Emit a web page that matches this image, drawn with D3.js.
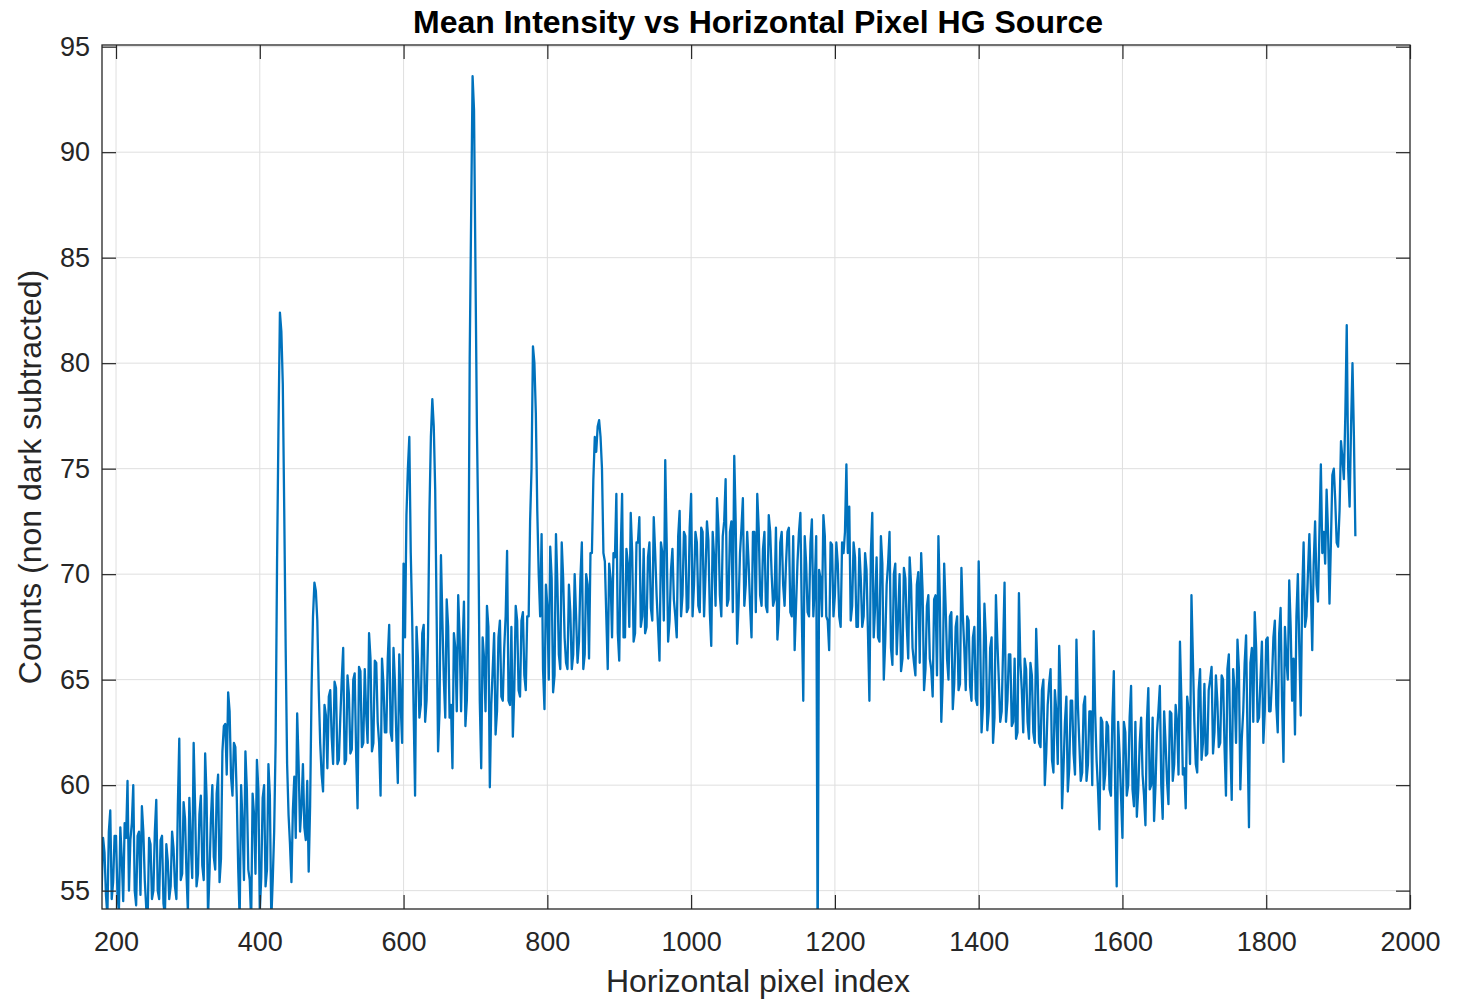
<!DOCTYPE html>
<html>
<head>
<meta charset="utf-8">
<script src="https://cdn.jsdelivr.net/npm/d3@7"></script>
<style>
  body { margin: 0; background: #fff; }
  text { font-family: "Liberation Sans", Arial, Helvetica, sans-serif; }
</style>
</head>
<body>
<svg id="chart" width="1473" height="1000"></svg>
<script>
// Samples are every 2 horizontal pixels; stored as two interleaved lists
const startPixel = 180;   // first pixel of evenCounts
const pixelStep = 4;      // spacing inside each list
const oddOffset = 2;      // oddCounts sit halfway between evenCounts samples

// Mean intensity (counts, no dark subtraction) at pixels 180, 184, 188, ...
const evenCounts = [
  // 180 - 276
  55.0, 56.8, 53.8, 58.8, 55.4, 57.6, 54.0, 56.5, 58.2, 60.2, 57.4, 60.0, 54.3, 57.8, 59.0, 55.5, 53.6, 57.2, 55.0, 59.3, 54.6, 57.6, 53.8, 56.4, 55.2,
  // 280 - 376
  57.0, 54.6, 62.2, 55.8, 58.4, 54.0, 57.2, 62.0, 55.2, 58.6, 56.2, 61.5, 53.8, 58.4, 56.6, 59.6, 55.4, 61.6, 62.9, 64.4, 60.4, 62.0, 59.4, 53.6, 58.2,
  // 380 - 476
  61.6, 56.0, 53.5, 58.6, 61.2, 54.0, 59.4, 55.2, 61.0, 53.6, 57.8, 70.5, 82.4, 79.0, 66.5, 58.6, 55.4, 60.4, 63.4, 57.8, 61.0, 57.4, 55.9, 64.5, 69.6,
  // 480 - 576
  67.8, 62.0, 59.7, 63.3, 64.2, 62.3, 64.9, 61.0, 63.2, 66.5, 61.2, 64.3, 61.7, 65.3, 58.9, 65.4, 62.0, 63.4, 67.2, 61.6, 65.9, 63.0, 59.5, 64.8, 62.5,
  // 580 - 676
  67.6, 62.1, 64.9, 60.1, 63.8, 70.5, 72.8, 76.5, 67.8, 59.5, 66.0, 63.8, 67.6, 64.0, 73.0, 78.3, 74.0, 61.6, 70.9, 65.0, 68.8, 63.2, 60.8, 66.5, 69.0,
  // 680 - 776
  63.5, 68.7, 64.0, 80.3, 93.6, 84.5, 72.0, 60.8, 66.0, 68.5, 59.9, 65.5, 62.4, 67.0, 64.2, 66.5, 71.1, 63.8, 62.3, 68.5, 64.5, 67.8, 65.2, 68.0, 72.5,
  // 780 - 876
  80.8, 77.6, 70.0, 71.9, 63.6, 68.5, 71.3, 64.4, 71.9, 66.2, 71.5, 67.0, 65.5, 68.2, 66.2, 68.0, 66.8, 71.5, 66.2, 69.5, 71.0, 74.5, 75.8, 77.3, 75.0,
  // 880 - 976
  70.6, 65.5, 69.8, 71.0, 73.8, 65.9, 73.8, 67.0, 70.5, 72.9, 66.8, 71.5, 72.7, 68.0, 67.2, 70.8, 68.4, 72.7, 69.0, 65.9, 71.0, 75.4, 66.8, 70.2, 68.8,
  // 980 - 1076
  67.0, 73.0, 69.0, 71.8, 68.4, 73.8, 69.5, 71.5, 68.2, 72.0, 70.0, 71.6, 66.6, 70.8, 73.6, 69.0, 71.8, 74.5, 68.8, 72.5, 75.6, 66.7, 71.0, 73.6, 69.5,
  // 1080 - 1176
  70.5, 67.0, 72.0, 73.8, 69.0, 71.2, 68.5, 72.8, 70.0, 68.8, 66.9, 71.5, 69.5, 70.5, 72.2, 68.0, 66.4, 70.6, 72.9, 64.0, 70.5, 68.0, 72.6, 69.5, 52.0,
  // 1180 - 1276
  69.8, 72.8, 68.0, 66.4, 71.4, 69.0, 70.5, 67.5, 71.0, 75.2, 73.2, 68.5, 70.8, 67.5, 69.8, 68.0, 70.2, 64.0, 72.9, 68.5, 67.0, 71.8, 65.0, 69.5, 72.0,
  // 1280 - 1376
  65.7, 70.5, 68.0, 65.4, 70.3, 67.5, 70.8, 66.5, 65.2, 70.1, 71.0, 64.5, 68.5, 66.0, 64.2, 69.0, 71.8, 63.0, 70.5, 66.0, 68.0, 63.6, 67.5, 64.5, 70.3,
  // 1380 - 1476
  66.5, 68.0, 64.7, 67.0, 64.1, 70.6, 62.5, 68.6, 62.6, 66.5, 62.0, 69.0, 65.0, 63.5, 69.6, 64.0, 66.2, 63.0, 62.2, 69.1, 64.5, 66.0, 63.0, 65.8, 62.5,
  // 1480 - 1576
  67.4, 62.0, 64.5, 60.0, 63.8, 65.5, 60.6, 63.5, 66.6, 58.9, 63.0, 59.7, 64.0, 61.5, 66.9, 62.0, 60.6, 64.2, 61.0, 63.5, 67.3, 61.2, 57.9, 63.0, 60.5,
  // 1580 - 1676
  62.8, 59.5, 65.4, 55.2, 61.5, 57.5, 62.5, 60.0, 64.7, 59.0, 58.5, 62.0, 60.5, 58.1, 64.6, 60.0, 58.3, 62.5, 64.7, 58.4, 62.0, 59.1, 63.4, 61.0, 63.0,
  // 1680 - 1776
  66.8, 60.5, 58.9, 63.5, 69.0, 63.0, 60.6, 65.5, 62.0, 61.4, 64.5, 65.6, 62.5, 64.0, 62.0, 65.0, 59.5, 66.2, 59.3, 64.5, 66.9, 59.8, 63.5, 67.1, 58.0,
  // 1780 - 1876
  66.5, 68.2, 63.0, 65.0, 62.0, 66.9, 63.5, 65.0, 67.8, 62.5, 68.4, 61.1, 66.0, 69.7, 64.0, 62.4, 70.0, 63.3, 71.5, 68.0, 71.9, 66.4, 72.5, 68.7, 75.2,
  // 1880 - 1924
  72.0, 74.0, 68.6, 74.7, 73.5, 71.3, 76.3, 74.5, 81.8, 73.2, 80.0, 71.8
];

// Mean intensity at pixels 182, 186, 190, ...
const oddCounts = [
  // 182 - 278
  57.5, 54.8, 57.8, 54.6, 57.6, 54.8, 58.0, 54.5, 57.5, 55.0, 58.2, 55.0, 57.6, 54.8, 57.8, 54.2, 57.5, 54.6, 57.8, 55.0, 57.4, 54.4, 57.2, 54.6, 57.8,
  // 282 - 378
  55.2, 59.0, 55.5, 59.2, 55.8, 59.4, 55.6, 59.0, 55.8, 59.5, 55.5, 59.4, 55.8, 60.0, 56.0, 60.5, 56.5, 62.8, 60.5, 63.5, 59.5, 61.8, 56.0, 60.0, 55.5,
  // 382 - 478
  59.8, 55.5, 59.6, 55.8, 59.8, 55.6, 60.0, 56.0, 59.5, 55.5, 62.0, 77.0, 81.5, 73.0, 61.0, 57.2, 58.8, 57.5, 61.0, 59.0, 58.0, 60.2, 59.0, 68.0, 69.2,
  // 482 - 578
  64.5, 60.5, 63.8, 60.8, 64.5, 61.0, 64.6, 61.2, 65.0, 61.0, 65.2, 61.5, 65.0, 61.5, 65.6, 61.8, 65.5, 62.0, 66.0, 62.0, 65.8, 62.0, 66.0, 62.5, 66.0,
  // 582 - 678
  62.5, 66.5, 62.2, 66.2, 62.0, 67.0, 75.0, 71.0, 63.5, 67.5, 63.2, 67.2, 63.0, 67.0, 76.5, 77.0, 68.0, 63.5, 67.8, 63.2, 67.5, 63.8, 67.2, 63.5, 67.0,
  // 682 - 778
  66.5, 62.8, 67.5, 87.0, 92.0, 77.0, 64.0, 67.0, 63.5, 67.5, 63.8, 67.2, 63.5, 67.8, 64.0, 68.0, 64.0, 67.5, 64.5, 67.8, 64.2, 68.2, 64.5, 68.0, 75.0,
  // 782 - 878
  80.0, 73.0, 68.0, 65.5, 69.5, 65.0, 69.8, 65.2, 69.5, 65.5, 69.8, 65.8, 69.5, 65.5, 70.0, 65.8, 69.8, 65.5, 70.0, 66.0, 71.0, 76.5, 77.0, 76.5, 71.0,
  // 882 - 978
  68.0, 70.5, 67.0, 70.8, 67.2, 71.0, 67.0, 71.2, 67.5, 71.0, 67.2, 71.5, 67.5, 71.2, 67.5, 71.5, 67.8, 71.0, 67.5, 71.5, 67.8, 71.5, 67.8, 71.2, 68.0,
  // 982 - 1078
  71.8, 68.0, 72.0, 68.2, 72.2, 68.0, 72.0, 68.5, 72.2, 68.0, 72.5, 68.2, 72.0, 68.5, 72.2, 68.0, 72.5, 68.5, 72.0, 68.2, 72.5, 68.5, 72.2, 68.5, 72.0,
  // 1082 - 1178
  68.5, 72.0, 68.2, 72.2, 68.5, 72.0, 68.2, 72.0, 68.5, 72.2, 68.0, 72.0, 68.5, 72.0, 68.2, 71.8, 68.5, 72.0, 68.0, 71.8, 68.2, 71.5, 68.0, 71.8, 70.2,
  // 1182 - 1278
  68.0, 71.8, 67.8, 71.5, 68.0, 71.5, 68.0, 71.5, 72.0, 71.0, 67.8, 71.5, 67.5, 71.2, 67.5, 71.0, 67.2, 71.0, 67.0, 70.8, 66.8, 70.5, 66.8, 70.5, 66.5,
  // 1282 - 1378
  70.0, 66.2, 70.0, 66.0, 69.8, 66.0, 69.5, 65.8, 69.5, 65.8, 69.2, 65.5, 69.0, 65.5, 68.8, 65.2, 68.8, 65.0, 68.5, 65.0, 68.2, 64.8, 68.0, 64.8, 68.0,
  // 1382 - 1478
  64.5, 67.8, 64.0, 67.5, 63.8, 67.2, 63.8, 67.0, 63.5, 67.0, 63.2, 66.8, 63.0, 66.5, 63.0, 66.2, 62.8, 66.0, 62.5, 65.8, 62.5, 65.5, 62.2, 65.2, 62.0,
  // 1482 - 1578
  65.2, 61.8, 65.0, 61.5, 64.8, 61.2, 64.5, 61.0, 64.5, 60.8, 64.2, 60.8, 64.0, 60.5, 63.8, 60.2, 63.8, 60.2, 63.5, 60.0, 63.5, 59.8, 63.2, 59.8, 63.0,
  // 1582 - 1678
  59.8, 63.2, 59.5, 63.0, 59.5, 63.0, 59.5, 63.2, 59.8, 63.0, 59.8, 63.2, 59.5, 63.0, 59.8, 63.2, 60.0, 63.5, 60.0, 63.5, 60.2, 63.5, 60.2, 63.8, 60.5,
  // 1682 - 1778
  64.0, 60.8, 64.2, 61.0, 66.0, 61.0, 64.5, 61.2, 64.8, 61.5, 65.0, 61.5, 65.2, 61.8, 65.2, 61.8, 65.5, 62.0, 65.5, 62.0, 65.5, 62.2, 65.8, 62.2, 65.8,
  // 1782 - 1878
  63.0, 66.5, 63.2, 66.8, 63.5, 67.0, 63.5, 67.0, 63.8, 67.2, 64.0, 67.5, 65.0, 67.5, 66.0, 68.0, 66.5, 69.0, 67.5, 70.0, 69.5, 70.5, 69.5, 72.0, 71.0,
  // 1882 - 1922
  70.5, 72.0, 71.5, 75.0, 71.5, 73.0, 75.5, 77.5, 75.0, 77.0, 76.5
];

const xTicks = [200, 400, 600, 800, 1000, 1200, 1400, 1600, 1800, 2000];
const yTicks = [55, 60, 65, 70, 75, 80, 85, 90, 95];
const xDomain = [180.5, 2000];
const yDomain = [54.13, 95.08];

const titleText = "Mean Intensity vs Horizontal Pixel HG Source";
const xLabelText = "Horizontal pixel index";
const yLabelText = "Counts (non dark subtracted)";

const lineColor = "#0072BD";
const axisColor = "#262626";
const gridColor = "#dfdfdf";

const plot = { left: 102, right: 1410, top: 45, bottom: 909 };
const tickLen = 14;

const svg = d3.select("#chart");

const x = d3.scaleLinear().domain(xDomain).range([plot.left, plot.right]);
const y = d3.scaleLinear().domain(yDomain).range([plot.bottom, plot.top]);

// Interleave the two lists into one series ordered by pixel index
const series = d3.sort(
  evenCounts.map((v, i) => ({ px: startPixel + i * pixelStep, v }))
    .concat(oddCounts.map((v, i) => ({ px: startPixel + oddOffset + i * pixelStep, v }))),
  d => d.px
);

// Grid lines
const grid = svg.append("g").attr("class", "grid");
grid.selectAll("line.gx").data(xTicks.filter(t => t < xDomain[1])).join("line")
  .attr("x1", d => x(d)).attr("x2", d => x(d))
  .attr("y1", plot.top).attr("y2", plot.bottom)
  .attr("stroke", gridColor).attr("stroke-width", 1);
grid.selectAll("line.gy").data(yTicks.filter(t => t < yDomain[1])).join("line")
  .attr("x1", plot.left).attr("x2", plot.right)
  .attr("y1", d => y(d)).attr("y2", d => y(d))
  .attr("stroke", gridColor).attr("stroke-width", 1);

// Data line, clipped to the axes box
svg.append("clipPath").attr("id", "plotClip")
  .append("rect")
  .attr("x", plot.left).attr("y", plot.top)
  .attr("width", plot.right - plot.left).attr("height", plot.bottom - plot.top);

const line = d3.line().x(d => x(d.px)).y(d => y(d.v));
svg.append("path")
  .datum(series)
  .attr("clip-path", "url(#plotClip)")
  .attr("fill", "none")
  .attr("stroke", lineColor)
  .attr("stroke-width", 2.3)
  .attr("stroke-linejoin", "round")
  .attr("d", line);

// Axes with inward ticks on all four sides
function styleAxis(g) {
  g.select(".domain").remove();
  g.selectAll(".tick line").attr("stroke", axisColor).attr("stroke-width", 1.2);
  g.selectAll(".tick text").attr("fill", axisColor).attr("font-size", 27)
    .attr("font-family", "'Liberation Sans', Arial, sans-serif");
}

const fmt = d3.format("d");

svg.append("g")
  .attr("transform", `translate(0,${plot.bottom})`)
  .call(d3.axisBottom(x).tickValues(xTicks).tickFormat(fmt)
    .tickSizeInner(-tickLen).tickSizeOuter(0).tickPadding(23))
  .call(styleAxis);

svg.append("g")
  .attr("transform", `translate(0,${plot.top})`)
  .call(d3.axisTop(x).tickValues(xTicks).tickSizeInner(-tickLen).tickSizeOuter(0).tickFormat(""))
  .call(styleAxis);

svg.append("g")
  .attr("transform", `translate(${plot.left},0)`)
  .call(d3.axisLeft(y).tickValues(yTicks).tickFormat(fmt)
    .tickSizeInner(-tickLen).tickSizeOuter(0).tickPadding(12))
  .call(styleAxis);

svg.append("g")
  .attr("transform", `translate(${plot.right},0)`)
  .call(d3.axisRight(y).tickValues(yTicks).tickSizeInner(-tickLen).tickSizeOuter(0).tickFormat(""))
  .call(styleAxis);

// Axes box
svg.append("rect")
  .attr("x", plot.left).attr("y", plot.top)
  .attr("width", plot.right - plot.left).attr("height", plot.bottom - plot.top)
  .attr("fill", "none").attr("stroke", axisColor).attr("stroke-width", 1.3);

// Title and axis labels
svg.append("text")
  .attr("x", (plot.left + plot.right) / 2 + 2).attr("y", 33)
  .attr("text-anchor", "middle")
  .attr("font-size", 32).attr("font-weight", "bold").attr("fill", "#000")
  .text(titleText);

svg.append("text")
  .attr("x", (plot.left + plot.right) / 2 + 2).attr("y", 992)
  .attr("text-anchor", "middle")
  .attr("font-size", 32).attr("fill", axisColor)
  .text(xLabelText);

svg.append("text")
  .attr("transform", `translate(41,${(plot.top + plot.bottom) / 2}) rotate(-90)`)
  .attr("text-anchor", "middle")
  .attr("font-size", 32).attr("fill", axisColor)
  .text(yLabelText);
</script>
</body>
</html>
